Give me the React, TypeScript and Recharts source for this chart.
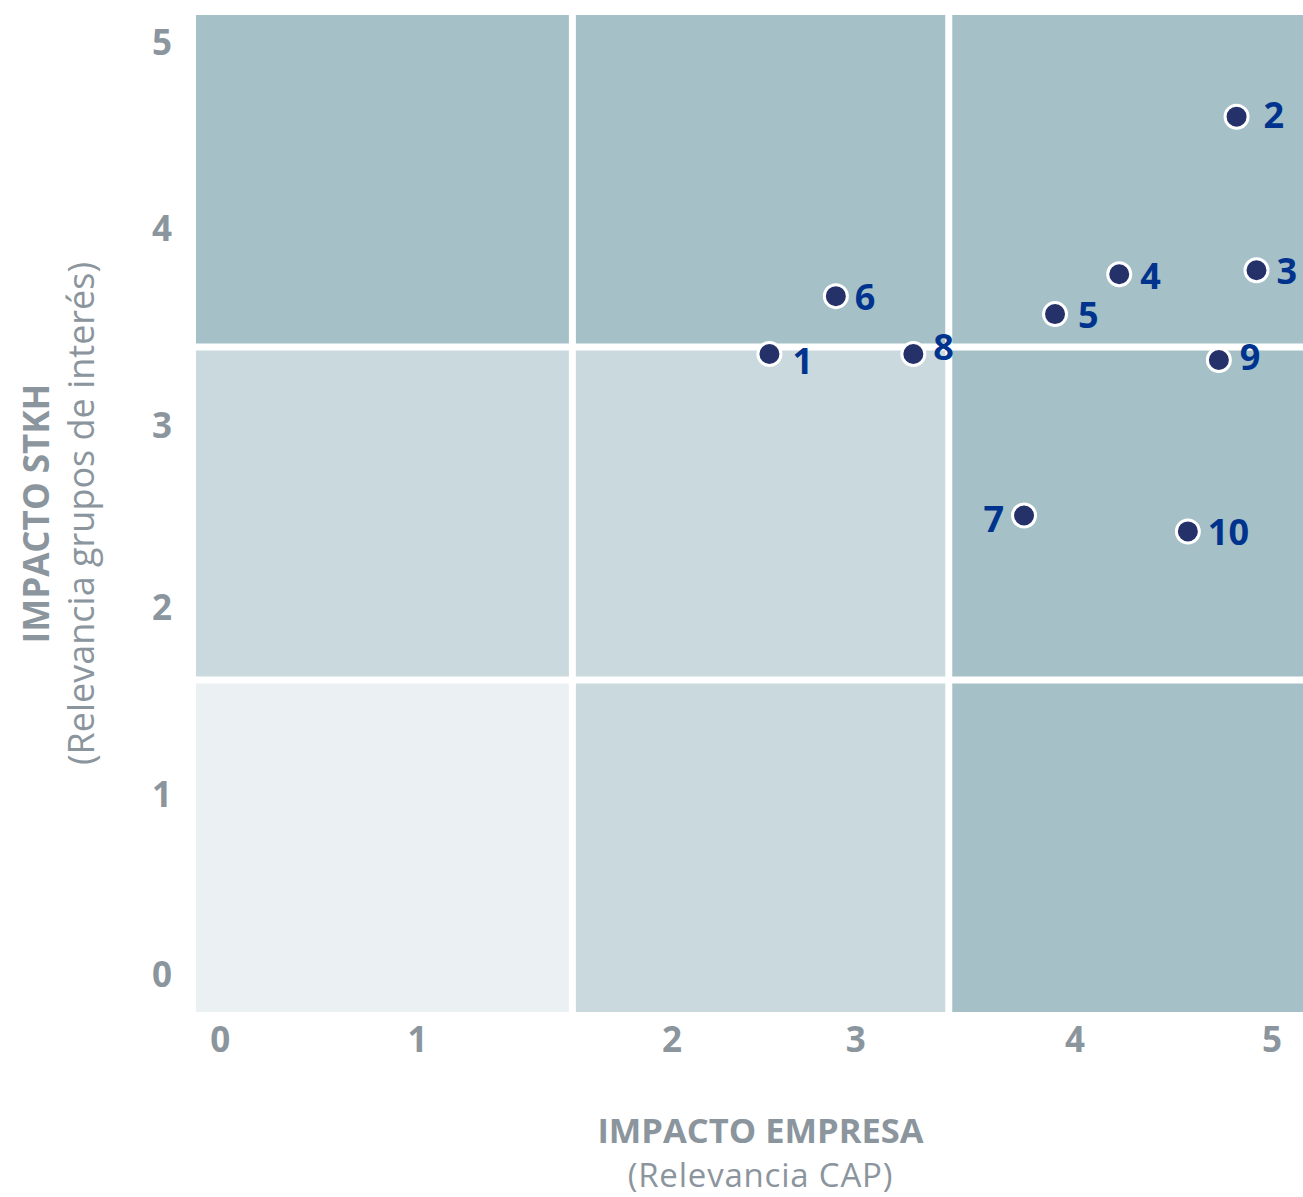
import { ScatterChart, Scatter, XAxis, YAxis, ReferenceArea, ReferenceLine } from 'recharts'

// topics: id, company impact (x), stakeholder impact (y)
const topicIds = [1, 2, 3, 4, 5, 6, 7, 8, 9, 10]
const empresaValues = [2.59, 4.7, 4.79, 4.17, 3.88, 2.89, 3.74, 3.24, 4.62, 4.48]
const stkhValues = [3.3, 4.49, 3.72, 3.7, 3.5, 3.59, 2.49, 3.3, 3.27, 2.41]

// tick labels and where they sit on the axes
const xTickValues = [0.11, 1.0, 2.15, 2.98, 3.97, 4.86]
const xTickLabels = ['0', '1', '2', '3', '4', '5']
const yTickValues = [0.19, 1.09, 2.03, 2.94, 3.93, 4.86]
const yTickLabels = ['0', '1', '2', '3', '4', '5']

// 3x3 materiality grid
const xBreaks = [0, 1.7, 3.4, 5]
const yBreaks = [0, 1.665, 3.335, 5]
// rows from bottom to top, columns left to right
const cellShades = [
  ['light', 'medium', 'dark'],
  ['medium', 'medium', 'dark'],
  ['dark', 'dark', 'dark'],
]

const SHADE: Record<string, string> = {
  light: '#ebf1f3',
  medium: '#c9d9de',
  dark: '#a5c1c7',
}
const GRAY = '#8b959d'
const DOT = '#253169'
const LABEL = '#00338d'
const FONT = '"Open Sans", sans-serif'

// label placement next to each dot
const labelPos: Record<number, { dx: number; dy: number; anchor?: 'start' | 'end' }> = {
  1: { dx: 23, dy: 7 },
  2: { dx: 27, dy: -2 },
  3: { dx: 20, dy: 0 },
  4: { dx: 21, dy: 1 },
  5: { dx: 23, dy: 0 },
  6: { dx: 19, dy: 0 },
  7: { dx: -20, dy: 3, anchor: 'end' },
  8: { dx: 20, dy: -7 },
  9: { dx: 21, dy: -3 },
  10: { dx: 20, dy: 0 },
}

const data = topicIds.map((id, i) => ({ id, x: empresaValues[i], y: stkhValues[i] }))

const cells = cellShades.flatMap((row, r) =>
  row.map((shade, c) => ({
    key: `${r}-${c}`,
    x1: xBreaks[c],
    x2: xBreaks[c + 1],
    y1: yBreaks[r],
    y2: yBreaks[r + 1],
    fill: SHADE[shade],
  }))
)

function Dot(props: any) {
  const { cx, cy, payload } = props
  const pos = labelPos[payload.id] || { dx: 20, dy: 0 }
  return (
    <g>
      <circle cx={cx} cy={cy} r={11.5} fill={DOT} stroke="#fff" strokeWidth={3} />
      <text
        x={cx + pos.dx}
        y={cy + pos.dy}
        textAnchor={pos.anchor || 'start'}
        dominantBaseline="central"
        fill={LABEL}
        fontFamily={FONT}
        fontWeight={700}
        fontSize={36}
      >
        {payload.id}
      </text>
    </g>
  )
}

function XTitle(props: any) {
  const { x, y, width } = props.viewBox
  const cx = x + width / 2 + 11
  return (
    <g fontFamily={FONT} fill={GRAY} textAnchor="middle">
      <text x={cx} y={y + 131} fontSize={34.5} fontWeight={700}>
        IMPACTO EMPRESA
      </text>
      <text x={cx} y={y + 175} fontSize={33} letterSpacing={0.8}>
        (Relevancia CAP)
      </text>
    </g>
  )
}

function YTitle(props: any) {
  const { y, height } = props.viewBox
  const cy = y + height / 2
  return (
    <g fontFamily={FONT} fill={GRAY} textAnchor="middle">
      <text x={49} y={cy} transform={`rotate(-90, 49, ${cy})`} fontSize={35} fontWeight={700}>
        IMPACTO STKH
      </text>
      <text x={94} y={cy} transform={`rotate(-90, 94, ${cy})`} fontSize={36}>
        (Relevancia grupos de interés)
      </text>
    </g>
  )
}

export default function App() {
  const tickStyle = { fill: GRAY, fontSize: 35, fontWeight: 700, fontFamily: FONT }
  return (
    <div style={{ position: 'absolute', left: 0, top: 0, width: 1303, height: 1197, background: '#fff' }}>
      <ScatterChart width={1303} height={1197} margin={{ top: 15, right: 0, bottom: 0, left: 0 }}>
        <XAxis
          type="number"
          dataKey="x"
          domain={[0, 5]}
          ticks={xTickValues}
          tickFormatter={(_v: number, i: number) => xTickLabels[i]}
          interval={0}
          axisLine={false}
          tickLine={false}
          tickSize={0}
          tickMargin={15}
          height={185}
          tick={tickStyle}
          allowDataOverflow
          label={{ content: XTitle }}
        />
        <YAxis
          type="number"
          dataKey="y"
          domain={[0, 5]}
          ticks={yTickValues}
          tickFormatter={(_v: number, i: number) => yTickLabels[i]}
          interval={0}
          axisLine={false}
          tickLine={false}
          tickSize={0}
          tickMargin={24}
          width={196}
          tick={tickStyle}
          allowDataOverflow
          label={{ content: YTitle }}
        />
        {cells.map((c) => (
          <ReferenceArea
            key={c.key}
            x1={c.x1}
            x2={c.x2}
            y1={c.y1}
            y2={c.y2}
            fill={c.fill}
            fillOpacity={1}
            stroke="none"
          />
        ))}
        {xBreaks.slice(1, 3).map((v) => (
          <ReferenceLine key={`vx${v}`} x={v} stroke="#fff" strokeWidth={7} />
        ))}
        {yBreaks.slice(1, 3).map((v) => (
          <ReferenceLine key={`hy${v}`} y={v} stroke="#fff" strokeWidth={7} />
        ))}
        <Scatter data={data} shape={Dot} isAnimationActive={false} />
      </ScatterChart>
    </div>
  )
}
